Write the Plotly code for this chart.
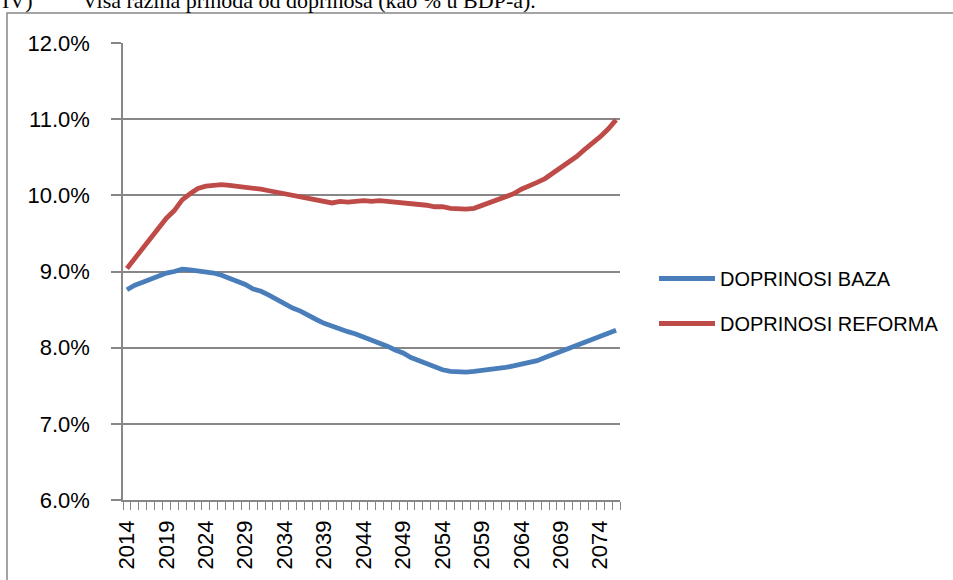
import plotly.graph_objects as go

years = list(range(2014, 2077))
tick_years = [2014, 2019, 2024, 2029, 2034, 2039, 2044, 2049, 2054, 2059, 2064, 2069, 2074]
tick_labels = [str(y) for y in tick_years]

doprinosi_baza = [
    8.76, 8.82, 8.86, 8.90, 8.95, 8.98, 9.00, 9.03, 9.02, 9.01,
    9.00, 8.98, 8.95, 8.91, 8.87, 8.83, 8.77, 8.74, 8.69, 8.63,
    8.58, 8.52, 8.48, 8.42, 8.37, 8.32, 8.28, 8.24, 8.21, 8.18,
    8.14, 8.11, 8.07, 8.02, 7.97, 7.93, 7.87, 7.83, 7.78, 7.74,
    7.71, 7.69, 7.68, 7.68, 7.69, 7.70, 7.71, 7.72, 7.74, 7.76,
    7.78, 7.80, 7.83, 7.87, 7.91, 7.95, 7.99, 8.04, 8.08, 8.12,
    8.16, 8.20, 8.23,
]
doprinosi_reforma = [
    9.04, 9.17, 9.30, 9.42, 9.56, 9.70, 9.80, 9.94, 10.02, 10.09,
    10.12, 10.13, 10.14, 10.13, 10.12, 10.11, 10.09, 10.08, 10.06, 10.04,
    10.02, 9.99, 9.98, 9.95, 9.93, 9.92, 9.90, 9.92, 9.91, 9.92,
    9.93, 9.92, 9.93, 9.92, 9.91, 9.91, 9.90, 9.89, 9.87, 9.85,
    9.85, 9.83, 9.82, 9.82, 9.83, 9.87, 9.90, 9.94, 9.98, 10.02,
    10.08, 10.12, 10.17, 10.22, 10.29, 10.36, 10.43, 10.51, 10.60, 10.68,
    10.77, 10.87, 10.99,
]

W, H = 953, 580
L, R, T, B = 123, 333, 43, 80
pw, ph = W - L - R, H - T - B

def px2x(px):
    return (px - L) / pw

def px2y(py):
    return (H - B - py) / ph

GRID = "#878787"
AXFONT = dict(family="Liberation Sans, Arial, sans-serif", size=22, color="#000000")
SERIF = dict(family="Liberation Serif, Times New Roman, serif", size=22, color="#000000")

fig = go.Figure()
fig.add_trace(go.Scatter(
    x=years, y=doprinosi_baza, mode="lines", name="DOPRINOSI BAZA",
    line=dict(color="#4A7EBB", width=4.8), legendgroup="a",
))
fig.add_trace(go.Scatter(
    x=years, y=doprinosi_reforma, mode="lines", name="DOPRINOSI REFORMA",
    line=dict(color="#BE4B48", width=4.8), legendgroup="b",
))

fig.update_layout(
    width=W, height=H, autosize=False,
    margin=dict(l=L, r=R, t=T, b=B, pad=0),
    paper_bgcolor="white", plot_bgcolor="white",
    showlegend=True,
    legend=dict(
        xref="container", yref="container",
        x=654 / W, y=1 - 259 / H, xanchor="left", yanchor="top",
        font=dict(family="Liberation Sans, Arial, sans-serif", size=20, color="#000000"),
        traceorder="grouped", tracegroupgap=16,
        itemwidth=56, bgcolor="rgba(0,0,0,0)",
    ),
    xaxis=dict(
        range=[2013.5, 2076.5], tickmode="array", tickvals=tick_years, ticktext=tick_labels,
        tickangle=-90, ticks="", showgrid=False, showline=True, linecolor=GRID, linewidth=1.5,
        tickfont=AXFONT, ticklabelstandoff=10, automargin=False, zeroline=False,
        minor=dict(ticks="outside", ticklen=8, tickcolor=GRID, tickwidth=1.3,
                   tickmode="linear", tick0=2013.5, dtick=1, showgrid=False),
    ),
    yaxis=dict(
        range=[6, 12], dtick=1, tick0=6, tickformat=".1f", ticksuffix="%",
        showgrid=True, gridcolor=GRID, gridwidth=1.5,
        showline=True, linecolor=GRID, linewidth=1.5,
        ticks="outside", ticklen=10, tickcolor=GRID, tickwidth=1.5,
        tickfont=AXFONT, ticklabelstandoff=17, automargin=False, zeroline=False,
    ),
    shapes=[dict(
        type="rect", xref="paper", yref="paper",
        x0=px2x(7), x1=px2x(990), y0=px2y(620), y1=px2y(13),
        line=dict(color=GRID, width=1.5), fillcolor="rgba(0,0,0,0)", layer="below",
    )],
    annotations=[
        dict(text="IV)", xref="paper", yref="paper", x=px2x(0), y=px2y(0),
             xanchor="left", yanchor="middle", showarrow=False, font=SERIF),
        dict(text="Viša razina prihoda od doprinosa (kao % u BDP-a).", xref="paper", yref="paper",
             x=px2x(80), y=px2y(0), xanchor="left", yanchor="middle", showarrow=False, font=SERIF),
    ],
)

fig.write_html("out.html", config={"displayModeBar": False},
               post_script="document.body.style.margin='0px';")
